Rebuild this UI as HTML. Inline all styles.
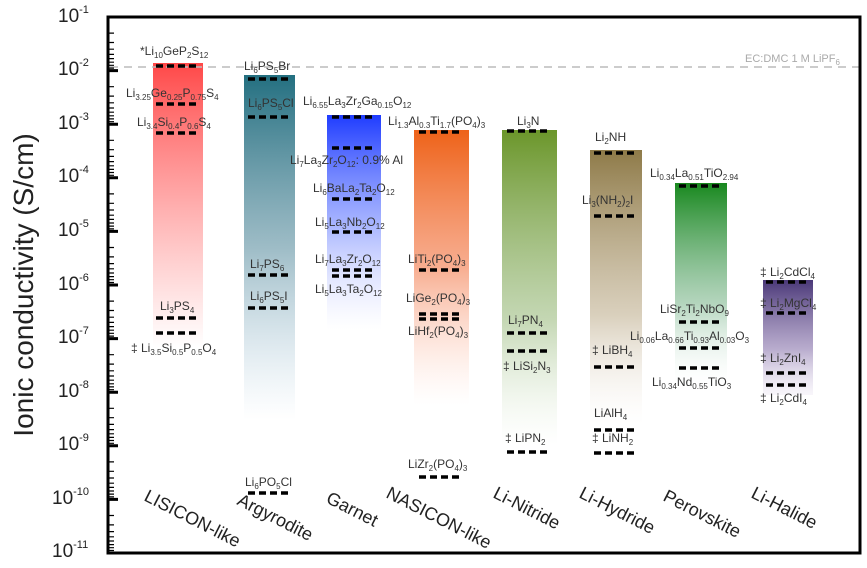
<!DOCTYPE html>
<html><head><meta charset="utf-8"><style>
html,body{margin:0;padding:0;background:#fff;}
svg{display:block;font-family:"Liberation Sans",sans-serif;}
.l{font-size:12px;fill:#333;}
.c{font-size:18px;fill:#222;}
.d{stroke:#000;stroke-width:3.4;stroke-dasharray:7,4;}
</style></head><body>
<svg width="867" height="568" viewBox="0 0 867 568" xmlns="http://www.w3.org/2000/svg">
<defs>
<linearGradient id="g1" x1="0" y1="0" x2="0" y2="1"><stop offset="0" stop-color="#ff4848"/><stop offset="0.3" stop-color="#ff6a6a" stop-opacity="0.8"/><stop offset="1" stop-color="#ff8080" stop-opacity="0"/></linearGradient>
<linearGradient id="g2" x1="0" y1="0" x2="0" y2="1"><stop offset="0" stop-color="#236f80"/><stop offset="0.5" stop-color="#5c8fa0" stop-opacity="0.6"/><stop offset="1" stop-color="#9cc0d8" stop-opacity="0"/></linearGradient>
<linearGradient id="g3" x1="0" y1="0" x2="0" y2="1"><stop offset="0" stop-color="#1f3cff"/><stop offset="0.5" stop-color="#6a80ff" stop-opacity="0.6"/><stop offset="1" stop-color="#c0c8ff" stop-opacity="0"/></linearGradient>
<linearGradient id="g4" x1="0" y1="0" x2="0" y2="1"><stop offset="0" stop-color="#ee6218"/><stop offset="0.5" stop-color="#f48a60" stop-opacity="0.7"/><stop offset="1" stop-color="#ffd0c0" stop-opacity="0"/></linearGradient>
<linearGradient id="g5" x1="0" y1="0" x2="0" y2="1"><stop offset="0" stop-color="#6b962a"/><stop offset="0.6" stop-color="#9cbc80" stop-opacity="0.6"/><stop offset="1" stop-color="#d8e8d0" stop-opacity="0"/></linearGradient>
<linearGradient id="g6" x1="0" y1="0" x2="0" y2="1"><stop offset="0" stop-color="#8e7a48"/><stop offset="0.6" stop-color="#c0b090" stop-opacity="0.6"/><stop offset="1" stop-color="#f0e8e0" stop-opacity="0"/></linearGradient>
<linearGradient id="g7" x1="0" y1="0" x2="0" y2="1"><stop offset="0" stop-color="#18881e"/><stop offset="0.6" stop-color="#80b890" stop-opacity="0.6"/><stop offset="1" stop-color="#e0f0e8" stop-opacity="0"/></linearGradient>
<linearGradient id="g8" x1="0" y1="0" x2="0" y2="1"><stop offset="0" stop-color="#4a3878"/><stop offset="0.6" stop-color="#9a88b8" stop-opacity="0.7"/><stop offset="1" stop-color="#e8e0f0" stop-opacity="0.3"/></linearGradient>
</defs>
<rect x="153" y="63" width="50" height="285" fill="url(#g1)"/>
<rect x="244" y="75" width="51" height="345" fill="url(#g2)"/>
<rect x="327" y="115" width="54" height="215" fill="url(#g3)"/>
<rect x="414" y="130" width="55" height="275" fill="url(#g4)"/>
<rect x="502" y="130" width="55" height="315" fill="url(#g5)"/>
<rect x="590" y="150" width="52" height="275" fill="url(#g6)"/>
<rect x="675" y="183" width="52" height="200" fill="url(#g7)"/>
<rect x="763" y="280" width="50" height="115" fill="url(#g8)"/>
<line x1="110" y1="67" x2="860" y2="67" stroke="#bbb" stroke-width="1.5" stroke-dasharray="8,6"/>
<text x="745" y="62" font-size="11" fill="#aaa">EC:DMC 1 M LiPF<tspan font-size="8" dy="3">6</tspan></text>
<g class="d">
<path d="M156 66h44M156 104h44M156 133h44M156 318h44M156 333h44"/>
<path d="M248 79h44M248 117h44M248 275h44M248 308h44M248 493h44"/>
<path d="M332 117h44M332 148h44M332 199h44M332 232h44M332 270h44M332 276h44"/>
<path d="M419 132h44M419 270h44M419 314h44M419 319h44M419 477h44"/>
<path d="M507 131h44M507 333h44M507 351h44M507 452h44"/>
<path d="M594 153h44M594 216h44M594 367h44M594 430h44M594 453h44"/>
<path d="M679 186h44M679 322h44M679 348h44M679 368h44"/>
<path d="M766 282h44M766 313h44M766 373h44M766 385h44"/>
</g>
<g class="l">
<text x="140" y="55">*Li<tspan font-size="8" dy="3">10</tspan><tspan dy="-3">GeP</tspan><tspan font-size="8" dy="3">2</tspan><tspan dy="-3">S</tspan><tspan font-size="8" dy="3">12</tspan></text>
<text x="126" y="97">Li<tspan font-size="8" dy="3">3.25</tspan><tspan dy="-3">Ge</tspan><tspan font-size="8" dy="3">0.25</tspan><tspan dy="-3">P</tspan><tspan font-size="8" dy="3">0.75</tspan><tspan dy="-3">S</tspan><tspan font-size="8" dy="3">4</tspan></text>
<text x="137" y="126">Li<tspan font-size="8" dy="3">3.4</tspan><tspan dy="-3">Si</tspan><tspan font-size="8" dy="3">0.4</tspan><tspan dy="-3">P</tspan><tspan font-size="8" dy="3">0.6</tspan><tspan dy="-3">S</tspan><tspan font-size="8" dy="3">4</tspan></text>
<text x="160" y="310">Li<tspan font-size="8" dy="3">3</tspan><tspan dy="-3">PS</tspan><tspan font-size="8" dy="3">4</tspan></text>
<text x="131" y="352">‡ Li<tspan font-size="8" dy="3">3.5</tspan><tspan dy="-3">Si</tspan><tspan font-size="8" dy="3">0.5</tspan><tspan dy="-3">P</tspan><tspan font-size="8" dy="3">0.5</tspan><tspan dy="-3">O</tspan><tspan font-size="8" dy="3">4</tspan></text>
<text x="244" y="70">Li<tspan font-size="8" dy="3">6</tspan><tspan dy="-3">PS</tspan><tspan font-size="8" dy="3">5</tspan><tspan dy="-3">Br</tspan></text>
<text x="248" y="107">Li<tspan font-size="8" dy="3">6</tspan><tspan dy="-3">PS</tspan><tspan font-size="8" dy="3">5</tspan><tspan dy="-3">Cl</tspan></text>
<text x="250" y="268">Li<tspan font-size="8" dy="3">7</tspan><tspan dy="-3">PS</tspan><tspan font-size="8" dy="3">6</tspan></text>
<text x="250" y="300">Li<tspan font-size="8" dy="3">6</tspan><tspan dy="-3">PS</tspan><tspan font-size="8" dy="3">5</tspan><tspan dy="-3">I</tspan></text>
<text x="245" y="486">Li<tspan font-size="8" dy="3">6</tspan><tspan dy="-3">PO</tspan><tspan font-size="8" dy="3">5</tspan><tspan dy="-3">Cl</tspan></text>
<text x="303" y="105">Li<tspan font-size="8" dy="3">6.55</tspan><tspan dy="-3">La</tspan><tspan font-size="8" dy="3">3</tspan><tspan dy="-3">Zr</tspan><tspan font-size="8" dy="3">2</tspan><tspan dy="-3">Ga</tspan><tspan font-size="8" dy="3">0.15</tspan><tspan dy="-3">O</tspan><tspan font-size="8" dy="3">12</tspan></text>
<text x="290" y="164">Li<tspan font-size="8" dy="3">7</tspan><tspan dy="-3">La</tspan><tspan font-size="8" dy="3">3</tspan><tspan dy="-3">Zr</tspan><tspan font-size="8" dy="3">2</tspan><tspan dy="-3">O</tspan><tspan font-size="8" dy="3">12</tspan><tspan dy="-3">: 0.9% Al</tspan></text>
<text x="313" y="192">Li<tspan font-size="8" dy="3">6</tspan><tspan dy="-3">BaLa</tspan><tspan font-size="8" dy="3">2</tspan><tspan dy="-3">Ta</tspan><tspan font-size="8" dy="3">2</tspan><tspan dy="-3">O</tspan><tspan font-size="8" dy="3">12</tspan></text>
<text x="315" y="226">Li<tspan font-size="8" dy="3">5</tspan><tspan dy="-3">La</tspan><tspan font-size="8" dy="3">3</tspan><tspan dy="-3">Nb</tspan><tspan font-size="8" dy="3">2</tspan><tspan dy="-3">O</tspan><tspan font-size="8" dy="3">12</tspan></text>
<text x="315" y="263">Li<tspan font-size="8" dy="3">7</tspan><tspan dy="-3">La</tspan><tspan font-size="8" dy="3">3</tspan><tspan dy="-3">Zr</tspan><tspan font-size="8" dy="3">2</tspan><tspan dy="-3">O</tspan><tspan font-size="8" dy="3">12</tspan></text>
<text x="315" y="293">Li<tspan font-size="8" dy="3">5</tspan><tspan dy="-3">La</tspan><tspan font-size="8" dy="3">3</tspan><tspan dy="-3">Ta</tspan><tspan font-size="8" dy="3">2</tspan><tspan dy="-3">O</tspan><tspan font-size="8" dy="3">12</tspan></text>
<text x="388" y="125">Li<tspan font-size="8" dy="3">1.3</tspan><tspan dy="-3">Al</tspan><tspan font-size="8" dy="3">0.3</tspan><tspan dy="-3">Ti</tspan><tspan font-size="8" dy="3">1.7</tspan><tspan dy="-3">(PO</tspan><tspan font-size="8" dy="3">4</tspan><tspan dy="-3">)</tspan><tspan font-size="8" dy="3">3</tspan></text>
<text x="408" y="263">LiTi<tspan font-size="8" dy="3">2</tspan><tspan dy="-3">(PO</tspan><tspan font-size="8" dy="3">4</tspan><tspan dy="-3">)</tspan><tspan font-size="8" dy="3">3</tspan></text>
<text x="406" y="302">LiGe<tspan font-size="8" dy="3">2</tspan><tspan dy="-3">(PO</tspan><tspan font-size="8" dy="3">4</tspan><tspan dy="-3">)</tspan><tspan font-size="8" dy="3">3</tspan></text>
<text x="408" y="335">LiHf<tspan font-size="8" dy="3">2</tspan><tspan dy="-3">(PO</tspan><tspan font-size="8" dy="3">4</tspan><tspan dy="-3">)</tspan><tspan font-size="8" dy="3">3</tspan></text>
<text x="408" y="468">LiZr<tspan font-size="8" dy="3">2</tspan><tspan dy="-3">(PO</tspan><tspan font-size="8" dy="3">4</tspan><tspan dy="-3">)</tspan><tspan font-size="8" dy="3">3</tspan></text>
<text x="517" y="125">Li<tspan font-size="8" dy="3">3</tspan><tspan dy="-3">N</tspan></text>
<text x="508" y="324">Li<tspan font-size="8" dy="3">7</tspan><tspan dy="-3">PN</tspan><tspan font-size="8" dy="3">4</tspan></text>
<text x="503" y="370">‡ LiSi<tspan font-size="8" dy="3">2</tspan><tspan dy="-3">N</tspan><tspan font-size="8" dy="3">3</tspan></text>
<text x="505" y="442">‡ LiPN<tspan font-size="8" dy="3">2</tspan></text>
<text x="595" y="141">Li<tspan font-size="8" dy="3">2</tspan><tspan dy="-3">NH</tspan></text>
<text x="582" y="204">Li<tspan font-size="8" dy="3">3</tspan><tspan dy="-3">(NH</tspan><tspan font-size="8" dy="3">2</tspan><tspan dy="-3">)</tspan><tspan font-size="8" dy="3">2</tspan><tspan dy="-3">I</tspan></text>
<text x="592" y="354">‡ LiBH<tspan font-size="8" dy="3">4</tspan></text>
<text x="594" y="417">LiAlH<tspan font-size="8" dy="3">4</tspan></text>
<text x="592" y="442">‡ LiNH<tspan font-size="8" dy="3">2</tspan></text>
<text x="650" y="177">Li<tspan font-size="8" dy="3">0.34</tspan><tspan dy="-3">La</tspan><tspan font-size="8" dy="3">0.51</tspan><tspan dy="-3">TiO</tspan><tspan font-size="8" dy="3">2.94</tspan></text>
<text x="660" y="313">LiSr<tspan font-size="8" dy="3">2</tspan><tspan dy="-3">Ti</tspan><tspan font-size="8" dy="3">2</tspan><tspan dy="-3">NbO</tspan><tspan font-size="8" dy="3">9</tspan></text>
<text x="630" y="340">Li<tspan font-size="8" dy="3">0.06</tspan><tspan dy="-3">La</tspan><tspan font-size="8" dy="3">0.66</tspan><tspan dy="-3">Ti</tspan><tspan font-size="8" dy="3">0.93</tspan><tspan dy="-3">Al</tspan><tspan font-size="8" dy="3">0.03</tspan><tspan dy="-3">O</tspan><tspan font-size="8" dy="3">3</tspan></text>
<text x="652" y="386">Li<tspan font-size="8" dy="3">0.34</tspan><tspan dy="-3">Nd</tspan><tspan font-size="8" dy="3">0.55</tspan><tspan dy="-3">TiO</tspan><tspan font-size="8" dy="3">3</tspan></text>
<text x="760" y="276">‡ Li<tspan font-size="8" dy="3">2</tspan><tspan dy="-3">CdCl</tspan><tspan font-size="8" dy="3">4</tspan></text>
<text x="760" y="307">‡ Li<tspan font-size="8" dy="3">2</tspan><tspan dy="-3">MgCl</tspan><tspan font-size="8" dy="3">4</tspan></text>
<text x="760" y="362">‡ Li<tspan font-size="8" dy="3">2</tspan><tspan dy="-3">ZnI</tspan><tspan font-size="8" dy="3">4</tspan></text>
<text x="760" y="402">‡ Li<tspan font-size="8" dy="3">2</tspan><tspan dy="-3">CdI</tspan><tspan font-size="8" dy="3">4</tspan></text>
</g>
<g class="c">
<text transform="translate(143,500) rotate(27)">LISICON-like</text>
<text transform="translate(236,504) rotate(27)">Argyrodite</text>
<text transform="translate(325,502) rotate(27)">Garnet</text>
<text transform="translate(385,497) rotate(27)">NASICON-like</text>
<text transform="translate(492,497) rotate(27)">Li-Nitride</text>
<text transform="translate(578,497) rotate(27)">Li-Hydride</text>
<text transform="translate(662,500) rotate(27)">Perovskite</text>
<text transform="translate(750,497) rotate(27)">Li-Halide</text>
</g>
<rect x="108" y="17" width="752" height="536" fill="none" stroke="#000" stroke-width="3"/>
<path stroke="#000" stroke-width="3" d="M108 17h10M108 70.6h10M108 124.2h10M108 177.8h10M108 231.4h10M108 285h10M108 338.6h10M108 392.2h10M108 445.8h10M108 499.4h10M108 553h10"/>
<g font-size="19" fill="#222">
<text x="58" y="22">10<tspan font-size="11" dy="-9">-1</tspan></text>
<text x="58" y="75">10<tspan font-size="11" dy="-9">-2</tspan></text>
<text x="58" y="129">10<tspan font-size="11" dy="-9">-3</tspan></text>
<text x="58" y="182">10<tspan font-size="11" dy="-9">-4</tspan></text>
<text x="58" y="236">10<tspan font-size="11" dy="-9">-5</tspan></text>
<text x="58" y="290">10<tspan font-size="11" dy="-9">-6</tspan></text>
<text x="58" y="343">10<tspan font-size="11" dy="-9">-7</tspan></text>
<text x="58" y="397">10<tspan font-size="11" dy="-9">-8</tspan></text>
<text x="58" y="450">10<tspan font-size="11" dy="-9">-9</tspan></text>
<text x="52" y="504">10<tspan font-size="11" dy="-9">-10</tspan></text>
<text x="52" y="557">10<tspan font-size="11" dy="-9">-11</tspan></text>
</g>
<text transform="translate(33,285) rotate(-90)" text-anchor="middle" font-size="28" fill="#222">Ionic conductivity (S/cm)</text>
<path stroke="#000" stroke-width="1.2" d="
M108 33.1h6M108 42.5h6M108 49.2h6M108 54.4h6M108 58.6h6M108 62.2h6M108 65.3h6M108 68.1h6
M108 86.7h6M108 96.1h6M108 102.8h6M108 108h6M108 112.2h6M108 115.8h6M108 118.9h6M108 121.7h6
M108 140.3h6M108 149.7h6M108 156.4h6M108 161.6h6M108 165.8h6M108 169.4h6M108 172.5h6M108 175.3h6
M108 193.9h6M108 203.3h6M108 210h6M108 215.2h6M108 219.4h6M108 223h6M108 226.1h6M108 228.9h6
M108 247.5h6M108 256.9h6M108 263.6h6M108 268.8h6M108 273h6M108 276.6h6M108 279.7h6M108 282.5h6
M108 301.1h6M108 310.5h6M108 317.2h6M108 322.4h6M108 326.6h6M108 330.2h6M108 333.3h6M108 336.1h6
M108 354.7h6M108 364.1h6M108 370.8h6M108 376h6M108 380.2h6M108 383.8h6M108 386.9h6M108 389.7h6
M108 408.3h6M108 417.7h6M108 424.4h6M108 429.6h6M108 433.8h6M108 437.4h6M108 440.5h6M108 443.3h6
M108 461.9h6M108 471.3h6M108 478h6M108 483.2h6M108 487.4h6M108 491h6M108 494.1h6M108 496.9h6
M108 515.5h6M108 524.9h6M108 531.6h6M108 536.8h6M108 541h6M108 544.6h6M108 547.7h6M108 550.5h6"/>
</svg>
</body></html>
